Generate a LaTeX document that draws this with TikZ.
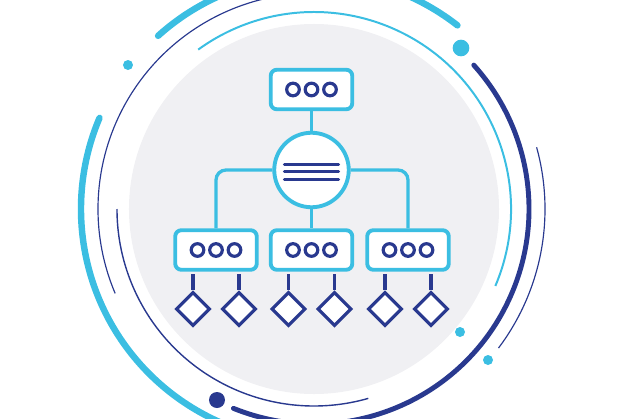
\documentclass[tikz,border=0pt]{standalone}
\usetikzlibrary{shapes.geometric}
\definecolor{ringcyan}{RGB}{59,190,226}
\definecolor{ringnavy}{RGB}{41,57,143}
\definecolor{discgray}{RGB}{240,240,243}
\begin{document}
\begin{tikzpicture}[x=0.03cm, y=0.03cm,
	box/.style={draw=ringcyan, line width=3.3pt, fill=white, rounded corners=0.18cm, minimum width=2.445cm, minimum height=1.185cm, inner sep=0pt},
	hubnode/.style={circle, draw=ringcyan, line width=3.3pt, fill=white, minimum size=2.235cm, inner sep=0pt},
	leaf/.style={diamond, aspect=1, draw=ringnavy, line width=2.7pt, fill=white, minimum width=1.02cm, minimum height=1.02cm, inner sep=0pt},
	link/.style={draw=ringcyan, line width=2.8pt},
	stem/.style={draw=ringnavy, line width=2.7pt, shorten >=1.6pt},
	dot/.style={draw=ringnavy, line width=2.7pt}]
	\useasboundingbox (-314,-209) rectangle (312,209);

	\fill[discgray] (0,0) circle (5.55cm);

	\draw[ringnavy, line width=1pt] (95:6.48cm) arc[start angle=95, end angle=203, radius=6.48cm];
	\draw[ringnavy, line width=1.2pt] (180:5.91cm) arc[start angle=180, end angle=286, radius=5.91cm];
	\draw[ringnavy, line width=1pt] (-37:6.93cm) arc[start angle=-37, end angle=15.5, radius=6.93cm];
	\draw[ringcyan, line width=1.7pt] (-23:5.91cm) arc[start angle=-23, end angle=126, radius=5.91cm];
	\draw[ringcyan, line width=5.5pt, line cap=round] (52:6.99cm) arc[start angle=52, end angle=132, radius=6.99cm];
	\draw[ringcyan, line width=5.5pt, line cap=round] (157:6.99cm) arc[start angle=157, end angle=255, radius=6.99cm];
	\draw[ringnavy, line width=4.2pt, line cap=round] (-112:6.45cm) arc[start angle=-112, end angle=42, radius=6.45cm];

	\fill[ringnavy] (-97,-191) circle (0.24cm);
	\fill[ringcyan] (147,161) circle (0.25cm);
	\fill[ringcyan] (-186,144) circle (0.15cm);
	\fill[ringcyan] (146,-123) circle (0.15cm);
	\fill[ringcyan] (174,-151) circle (0.15cm);

	\node[box] (top) at (-2.5,119.5) {};
	\node[hubnode] (hub) at (-2.5,39) {};
	\node[box] (left) at (-98,-41) {};
	\node[box] (mid) at (-2.5,-41) {};
	\node[box] (right) at (94,-41) {};

	\draw[link] (top.south) -- (hub.north);
	\draw[link] (hub.south) -- (mid.north);
	\draw[link, rounded corners=0.3cm] (hub.west) -| (left.north);
	\draw[link, rounded corners=0.3cm] (hub.east) -| (right.north);

	\foreach \dy in {5.7,-1.7,-9.3}
		\draw[ringnavy, line width=2.7pt, line cap=round] ([shift={(-27,\dy)}]hub.center) -- ([shift={(27,\dy)}]hub.center);

	\foreach \b in {top,left,mid,right}
		\foreach \dx in {-18.5,0,18.5}
			\draw[dot] ([xshift=\dx*0.03cm]\b.center) circle (0.19cm);

	\foreach \b in {left,mid,right} {
		\node[leaf] (\b-a) at ([shift={(-23,-59)}]\b.center) {};
		\node[leaf] (\b-b) at ([shift={(23,-59)}]\b.center) {};
		\draw[stem] (\b-a.north) -- (\b-a.north |- \b.south);
		\draw[stem] (\b-b.north) -- (\b-b.north |- \b.south);
	}
\end{tikzpicture}
\end{document}
